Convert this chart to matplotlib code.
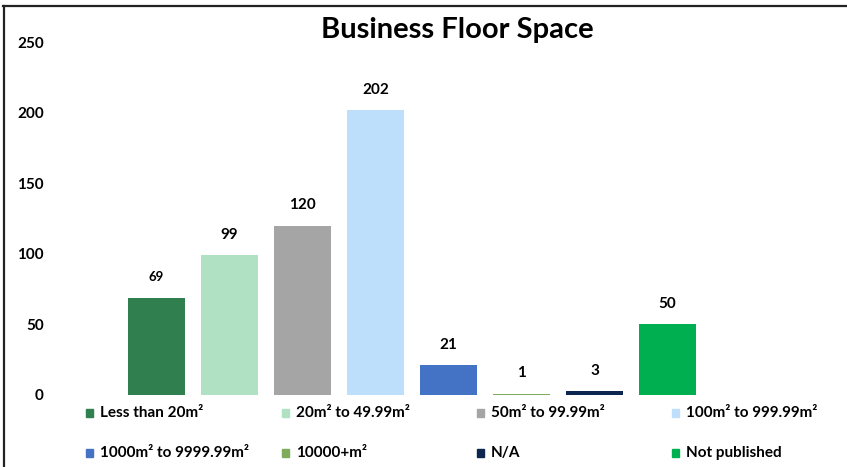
import numpy as np
import matplotlib.pyplot as plt
from matplotlib.patches import Rectangle
from matplotlib.lines import Line2D

categories = ['Less than 20m²', '20m² to 49.99m²', '50m² to 99.99m²', '100m² to 999.99m²',
              '1000m² to 9999.99m²', '10000+m²', 'N/A', 'Not published']
values = [69, 99, 120, 202, 21, 1, 3, 50]
yticks = [0, 50, 100, 150, 200, 250]

colors = ['#2f7f4f', '#b1e1c3', '#a5a5a5', '#bddffb', '#4472c4', '#7fac5a', '#0d2650', '#00b050']
label_size = [9.5, 11, 11, 11, 11, 11, 11, 11]

plt.rcParams['font.family'] = ['Lato', 'DejaVu Sans']
plt.rcParams['font.weight'] = 'bold'

W, H = 847, 467
fig = plt.figure(figsize=(W / 100, H / 100), dpi=100)

# frame lines (top and left) like the cropped chart border
fig.add_artist(Line2D([3 / W, 1], [1 - 6 / H, 1 - 6 / H], color='#222222', lw=1.6))
fig.add_artist(Line2D([4 / W, 4 / W], [0, 1 - 6 / H], color='#222222', lw=1.6))

ax = fig.add_axes([55 / W, 72 / H, 790 / W, 353 / H])
x = np.arange(len(values))
bars = ax.bar(x, values, width=0.78, color=colors)
for xi, v, fs in zip(x, values, label_size):
    ax.annotate(str(v), (xi, v), xytext=(0, 14.5), textcoords='offset points',
                ha='center', va='center', fontsize=fs, fontweight='bold')

ax.set_xlim(-1.39, 9.43)
ax.set_ylim(0, 250)
ax.set_yticks(yticks)
ax.set_xticks([])
ax.tick_params(axis='y', length=0, pad=8, labelsize=11)
for lab in ax.get_yticklabels():
    lab.set_fontweight('bold')
for s in ax.spines.values():
    s.set_visible(False)

fig.text(457 / W, 1 - 30 / H, 'Business Floor Space', ha='center', va='center',
         fontsize=21, fontweight='bold')

# legend, 4 columns x 2 rows
col_x = [86, 282, 477, 672]
row_y = [413, 453]
for k, (name, c) in enumerate(zip(categories, colors)):
    px = col_x[k % 4]
    py = row_y[k // 4]
    fig.add_artist(Rectangle((px / W, 1 - (py + 4) / H), 7 / W, 8 / H,
                             color=c, transform=fig.transFigure))
    fig.text((px + 14) / W, 1 - py / H, name, ha='left', va='center',
             fontsize=11, fontweight='bold')

fig.savefig('out.png', dpi=100)
